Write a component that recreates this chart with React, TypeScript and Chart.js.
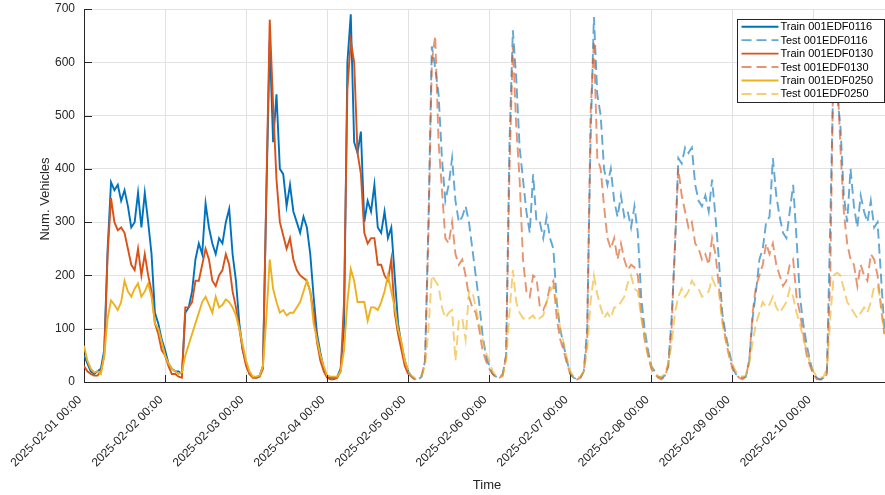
import React, { useEffect, useRef } from "react";
import { Chart, registerables } from "chart.js";

Chart.register(...registerables);

// ---- data (hours since 2025-02-01 00:00) ----
const dayTickHours = [0, 24, 48, 72, 96, 120, 144, 168, 192, 216];
const dayTickLabels = [
  "2025-02-01 00:00",
  "2025-02-02 00:00",
  "2025-02-03 00:00",
  "2025-02-04 00:00",
  "2025-02-05 00:00",
  "2025-02-06 00:00",
  "2025-02-07 00:00",
  "2025-02-08 00:00",
  "2025-02-09 00:00",
  "2025-02-10 00:00",
];
const yTicks = [0, 100, 200, 300, 400, 500, 600, 700];
const trainStartHour = 0;
const testStartHour = 96;
const xMaxHour = 237.2;

const seriesNames = [
  "Train 001EDF0116",
  "Test 001EDF0116",
  "Train 001EDF0130",
  "Test 001EDF0130",
  "Train 001EDF0250",
  "Test 001EDF0250",
];

const train0116 = [
  50, 35, 20, 15, 20, 25, 60, 250, 375, 360,
  370, 340, 360, 330, 290, 300, 355, 290, 355, 300,
  240, 130, 110, 80, 60, 35, 25, 20, 20, 15,
  130, 140, 170, 230, 260, 240, 335, 290, 260, 240,
  270, 260, 300, 325, 240, 190, 110, 60, 35, 15,
  10, 8, 12, 30, 350, 640, 450, 540, 400, 390,
  330, 370, 320, 300, 280, 310, 290, 240, 160, 90,
  55, 25, 10, 8, 8, 10, 25, 100, 600, 690,
  450, 430, 470, 300, 340, 320, 370, 290, 280, 320,
  270, 290, 200, 110, 70, 40, 20,
];
const train0130 = [
  30, 20, 15, 12, 12, 20, 50, 240, 345, 300,
  285, 290, 280, 250, 220, 210, 250, 200, 240, 200,
  170, 110, 90, 60, 50, 30, 15, 15, 10, 8,
  140, 140, 150, 190, 190, 220, 250, 230, 190, 180,
  200, 210, 240, 220, 170, 140, 100, 60, 30, 15,
  8, 8, 10, 25, 360, 680, 520, 380, 300, 275,
  250, 270, 230, 210, 200, 195, 190, 170, 130, 75,
  40, 20, 8, 5, 5, 8, 20, 150, 550, 640,
  600, 430, 390, 280, 260, 270, 270, 220, 220, 200,
  190, 230, 130, 90, 60, 30, 15,
];
const train0250 = [
  68, 40, 25, 18, 20, 15, 50, 120, 153, 145,
  135, 150, 190, 170, 160, 175, 185, 160, 170, 185,
  160, 110, 100, 75, 50, 35, 25, 20, 15, 18,
  50, 70, 90, 110, 130, 150, 160, 145, 130, 160,
  140, 145, 155, 150, 140, 125, 100, 70, 40, 20,
  10, 10, 12, 30, 120, 230, 175, 150, 130, 135,
  125, 130, 130, 140, 150, 170, 190, 170, 110, 80,
  50, 30, 12, 10, 10, 10, 20, 60, 150, 212,
  190, 150, 150, 150, 115, 140, 140, 135, 150, 170,
  200, 170, 140, 100, 75, 40, 22,
];

const test0116 = [
  20, 10, 5, 5,
  10, 40, 300, 630, 590, 540, 420, 340, 370, 420,
  340, 300, 310, 330, 300, 250, 200, 150, 90, 50,
  30, 15, 10, 8, 15, 50, 450, 660, 570, 440,
  380, 320, 280, 390, 300, 300, 270, 310, 270, 250,
  150, 100, 70, 40, 15, 8, 5, 8, 20, 100,
  450, 685, 540, 500, 400, 370, 400, 340, 310, 350,
  310, 320, 290, 330, 280, 160, 100, 60, 30, 20,
  10, 8, 12, 30, 120, 250, 420, 410, 440, 430,
  440, 370, 340, 330, 350, 320, 380, 310, 230, 130,
  90, 60, 30, 15, 10, 8, 10, 40, 120, 170,
  230, 250, 300, 310, 420, 350, 310, 280, 270, 320,
  370, 270, 160, 110, 70, 40, 15, 8, 5, 8,
  20, 300, 600, 540, 480, 350, 300, 400, 330, 290,
  350, 320, 300, 340, 290, 300, 200, 100,
];
const test0130 = [
  15, 10, 5, 8,
  12, 40, 280, 600, 650, 450, 360, 270, 260, 300,
  240, 220, 230, 200, 160, 140, 130, 100, 60, 40,
  25, 15, 8, 8, 12, 50, 400, 630, 480, 380,
  230, 170, 160, 200, 195, 140, 135, 150, 180, 190,
  120, 80, 60, 35, 15, 8, 5, 8, 20, 80,
  500, 640, 420, 400, 330, 270, 250, 270, 230, 260,
  230, 210, 220, 215, 200, 130, 80, 50, 25, 15,
  8, 5, 10, 30, 100, 260, 400, 350, 320, 290,
  300, 260, 250, 230, 240, 220, 270, 240, 180, 120,
  80, 50, 25, 15, 8, 5, 10, 40, 130, 180,
  200, 220, 260, 240, 260, 220, 200, 180, 190, 220,
  230, 160, 130, 90, 50, 30, 15, 5, 5, 5,
  15, 200, 650, 590, 440, 320, 260, 230, 220, 180,
  220, 200, 190, 240, 230, 200, 140, 90,
];
const test0250 = [
  20, 12, 8, 8,
  12, 30, 100, 200, 190, 180, 140, 120, 130, 135,
  40, 115, 120, 80, 170, 170, 140, 110, 80, 55,
  40, 20, 12, 10, 12, 40, 130, 210, 150, 130,
  120, 115, 120, 125, 115, 120, 125, 150, 170, 180,
  150, 100, 75, 45, 20, 10, 8, 10, 20, 60,
  150, 200, 165, 140, 120, 130, 120, 140, 140, 150,
  160, 185, 200, 175, 170, 120, 90, 50, 30, 20,
  10, 10, 15, 35, 70, 130, 160, 175, 160, 170,
  190, 180, 175, 160, 165, 170, 195, 180, 170, 110,
  80, 50, 35, 20, 15, 10, 12, 35, 75, 110,
  130, 150, 140, 145, 160, 140, 130, 140, 150, 175,
  160, 130, 110, 80, 60, 35, 20, 10, 8, 10,
  25, 120, 200, 205, 200, 175, 150, 140, 130, 120,
  130, 140, 130, 150, 180, 180, 150, 90,
];

const FONT = '"Liberation Sans", Arial, Helvetica, sans-serif';
const TEXT_COLOR = "#262626";

const toPoints = (vals: number[], start: number) =>
  vals.map((v, i) => ({ x: start + i, y: v }));

const overlayPlugin = {
  id: "matlabOverlay",
  afterDraw(chart: any) {
    const ctx = chart.ctx as CanvasRenderingContext2D;
    const { left, bottom } = chart.chartArea;
    const xs = chart.scales.x;
    const ys = chart.scales.y;
    ctx.save();
    // inward tick marks
    ctx.strokeStyle = TEXT_COLOR;
    ctx.lineWidth = 1;
    ctx.beginPath();
    yTicks.forEach((v) => {
      const y = Math.round(ys.getPixelForValue(v)) + 0.5;
      ctx.moveTo(left, y);
      ctx.lineTo(left + 8, y);
    });
    dayTickHours.forEach((h) => {
      const x = Math.round(xs.getPixelForValue(h)) + 0.5;
      ctx.moveTo(x, bottom);
      ctx.lineTo(x, bottom - 7);
    });
    ctx.stroke();

    // y tick labels
    ctx.fillStyle = TEXT_COLOR;
    ctx.font = `12px ${FONT}`;
    ctx.textAlign = "right";
    ctx.textBaseline = "middle";
    yTicks.forEach((v) => {
      ctx.fillText(String(v), left - 9, ys.getPixelForValue(v));
    });
    // x tick labels rotated 45deg
    dayTickHours.forEach((h, i) => {
      const x = xs.getPixelForValue(h);
      ctx.save();
      ctx.translate(x - 4, bottom + 16);
      ctx.rotate(-Math.PI / 4);
      ctx.textAlign = "right";
      ctx.textBaseline = "middle";
      ctx.fillText(dayTickLabels[i], 0, 0);
      ctx.restore();
    });
    // axis titles
    ctx.font = `13px ${FONT}`;
    ctx.textAlign = "center";
    ctx.textBaseline = "middle";
    ctx.fillText("Time", 487, 485);
    ctx.save();
    ctx.translate(45, 199);
    ctx.rotate(-Math.PI / 2);
    ctx.fillText("Num. Vehicles", 0, 0);
    ctx.restore();

    // legend
    const bx = 737.5, by = 19.5, bw = 147, bh = 83;
    ctx.fillStyle = "#ffffff";
    ctx.fillRect(bx, by, bw, bh);
    ctx.strokeStyle = "#262626";
    ctx.lineWidth = 1;
    ctx.strokeRect(bx, by, bw, bh);
    ctx.font = `11px ${FONT}`;
    ctx.textAlign = "left";
    ctx.textBaseline = "middle";
    chart.data.datasets.forEach((ds: any, i: number) => {
      const y = 26.7 + i * 13.45;
      ctx.save();
      ctx.strokeStyle = ds.borderColor;
      ctx.lineWidth = ds.borderWidth;
      ctx.setLineDash(ds.borderDash || []);
      ctx.beginPath();
      ctx.moveTo(741.5, y);
      ctx.lineTo(778.5, y);
      ctx.stroke();
      ctx.restore();
      ctx.fillStyle = "#000000";
      ctx.fillText(seriesNames[i], 780.5, y + 0.5);
    });
    ctx.restore();
  },
};

export default function App() {
  const ref = useRef<HTMLCanvasElement | null>(null);
  useEffect(() => {
    if (!ref.current) return;
    const dash = [10, 5];
    const mk = (
      label: string,
      vals: number[],
      start: number,
      color: string,
      dashed: boolean,
      order: number
    ) => ({
      label,
      data: toPoints(vals, start),
      borderColor: color,
      borderWidth: 1.9,
      borderDash: dashed ? dash : [],
      pointRadius: 0,
      tension: 0,
      fill: false,
      order,
    });
    const chart = new Chart(ref.current, {
      type: "line",
      data: {
        datasets: [
          mk(seriesNames[0], train0116, trainStartHour, "#0072BD", false, 6),
          mk(seriesNames[1], test0116, testStartHour, "rgba(0,114,189,0.62)", true, 5),
          mk(seriesNames[2], train0130, trainStartHour, "#D95319", false, 4),
          mk(seriesNames[3], test0130, testStartHour, "rgba(217,83,25,0.62)", true, 3),
          mk(seriesNames[4], train0250, trainStartHour, "#EDB120", false, 2),
          mk(seriesNames[5], test0250, testStartHour, "rgba(237,177,32,0.62)", true, 1),
        ],
      },
      options: {
        responsive: false,
        animation: false,
        parsing: false as any,
        normalized: true,
        layout: { padding: { left: 84, right: 0, top: 9, bottom: 113 } },
        plugins: {
          legend: { display: false },
          tooltip: { enabled: false },
        },
        scales: {
          x: {
            type: "linear",
            min: 0,
            max: xMaxHour,
            afterBuildTicks: (s: any) => {
              s.ticks = dayTickHours.map((value) => ({ value }));
            },
            ticks: { display: false },
            grid: { color: "#e2e2e2", drawTicks: false, lineWidth: 1 },
            border: { display: true, color: TEXT_COLOR, width: 1 },
          },
          y: {
            type: "linear",
            min: 0,
            max: 700,
            afterBuildTicks: (s: any) => {
              s.ticks = yTicks.map((value) => ({ value }));
            },
            ticks: { display: false },
            grid: { color: "#e2e2e2", drawTicks: false, lineWidth: 1 },
            border: { display: true, color: TEXT_COLOR, width: 1 },
          },
        },
      },
      plugins: [overlayPlugin],
    });
    return () => chart.destroy();
  }, []);
  return (
    <div style={{ position: "fixed", left: 0, top: 0, width: 885, height: 495, background: "#fff" }}>
      <canvas ref={ref} width={885} height={495} style={{ display: "block" }} />
    </div>
  );
}
